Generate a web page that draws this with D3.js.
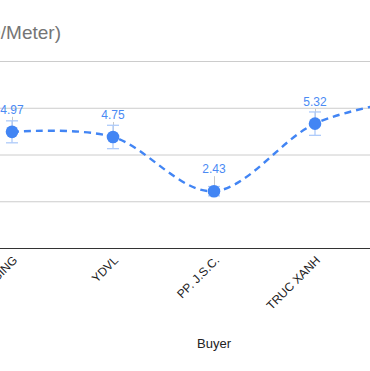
<!DOCTYPE html>
<html>
<head>
<meta charset="utf-8">
<script src="https://cdn.jsdelivr.net/npm/d3@7"></script>
<style>
  body { margin: 0; background: #fff; }
  text { font-family: Arial, "Liberation Sans", sans-serif; }
</style>
</head>
<body>
<svg></svg>
<script>
let width = 370, height = 371;

// data
let buyers = ["HOUSING", "YDVL", "PP. J.S.C.", "TRUC XANH", "KHAC"];
let prices = [4.97, 4.75, 2.43, 5.32, 6.4];
let lowErr = [4.5, 4.25, 2.23, 4.82, 5.9];
let highErr = [5.44, 5.25, 2.63, 5.82, 6.9];
let yTicks = [0, 2, 4, 6, 8];

let data = buyers.map((b, i) => ({ buyer: b, value: prices[i], lo: lowErr[i], hi: highErr[i] }));

let svg = d3.select("svg")
    .attr("width", width)
    .attr("height", height);

// chart area is wider than the window, it gets cut on both sides
let x = d3.scalePoint()
    .domain(buyers)
    .range([-38.5, 466.5])
    .padding(0.5);

let y = d3.scaleLinear()
    .domain([0, 8])
    .range([248, 61]);

//gridlines
svg.append("g")
    .selectAll("line")
    .data(yTicks.filter(d => d > 0))
    .enter()
    .append("line")
    .attr("x1", -40)
    .attr("x2", 470)
    .attr("y1", d => y(d) + 0.5)
    .attr("y2", d => y(d) + 0.5)
    .attr("stroke", "#cccccc")
    .attr("stroke-width", 1)

// baseline
svg.append("line")
    .attr("x1", -40)
    .attr("x2", 470)
    .attr("y1", y(0) + 0.5)
    .attr("y2", y(0) + 0.5)
    .attr("stroke", "#333")
    .attr("stroke-width", 1.2)

// title, left part is outside the window
svg.append("text")
    .attr("x", 61)
    .attr("y", 39)
    .attr("text-anchor", "end")
    .style("font-size", "19px")
    .style("fill", "#757575")
    .text("Price (VND/Meter)")

// x axis labels
svg.append("g")
    .selectAll("text")
    .data(buyers)
    .enter()
    .append("text")
    .attr("transform", d => "translate(" + (x(d) + 6) + ",261) rotate(-45)")
    .attr("text-anchor", "end")
    .style("font-size", "12px")
    .style("fill", "#222")
    .text(d => d)

svg.append("text")
    .attr("x", x(buyers[2]))
    .attr("y", 348)
    .attr("text-anchor", "middle")
    .style("font-size", "13px")
    .style("fill", "#222")
    .text("Buyer")

// annotation stems
svg.append("g")
    .selectAll("line")
    .data(data)
    .enter()
    .append("line")
    .attr("x1", d => x(d.buyer) + 0.5)
    .attr("x2", d => x(d.buyer) + 0.5)
    .attr("y1", d => y(d.value))
    .attr("y2", d => y(d.value) - 15)
    .attr("stroke", "#c8c8c8")
    .attr("stroke-width", 1)

// error bars
let err = svg.append("g")
    .attr("stroke", "#aecbfa")
    .attr("stroke-width", 1.3)
    .selectAll("g")
    .data(data)
    .enter()
    .append("g")

err.append("line")
    .attr("x1", d => x(d.buyer))
    .attr("x2", d => x(d.buyer))
    .attr("y1", d => y(d.lo))
    .attr("y2", d => y(d.hi))

err.append("line")
    .attr("x1", d => x(d.buyer) - 6)
    .attr("x2", d => x(d.buyer) + 6)
    .attr("y1", d => y(d.lo))
    .attr("y2", d => y(d.lo))

err.append("line")
    .attr("x1", d => x(d.buyer) - 6)
    .attr("x2", d => x(d.buyer) + 6)
    .attr("y1", d => y(d.hi))
    .attr("y2", d => y(d.hi))

// smooth dashed line
let line = d3.line()
    .x(d => x(d.buyer))
    .y(d => y(d.value))
    .curve(d3.curveCardinal)

svg.append("path")
    .datum(data)
    .attr("d", line)
    .attr("fill", "none")
    .attr("stroke", "#4285f4")
    .attr("stroke-width", 2.4)
    .attr("stroke-dasharray", "7,5")

svg.append("g")
    .selectAll("circle")
    .data(data)
    .enter()
    .append("circle")
    .attr("cx", d => x(d.buyer))
    .attr("cy", d => y(d.value))
    .attr("r", 6.3)
    .style("fill", "#4285f4")

// value labels
svg.append("g")
    .selectAll("text")
    .data(data)
    .enter()
    .append("text")
    .attr("x", d => x(d.buyer))
    .attr("y", d => y(d.value) - 18)
    .attr("text-anchor", "middle")
    .style("font-size", "12px")
    .style("fill", "#4a8af4")
    .text(d => d.value.toFixed(2))
</script>
</body>
</html>
